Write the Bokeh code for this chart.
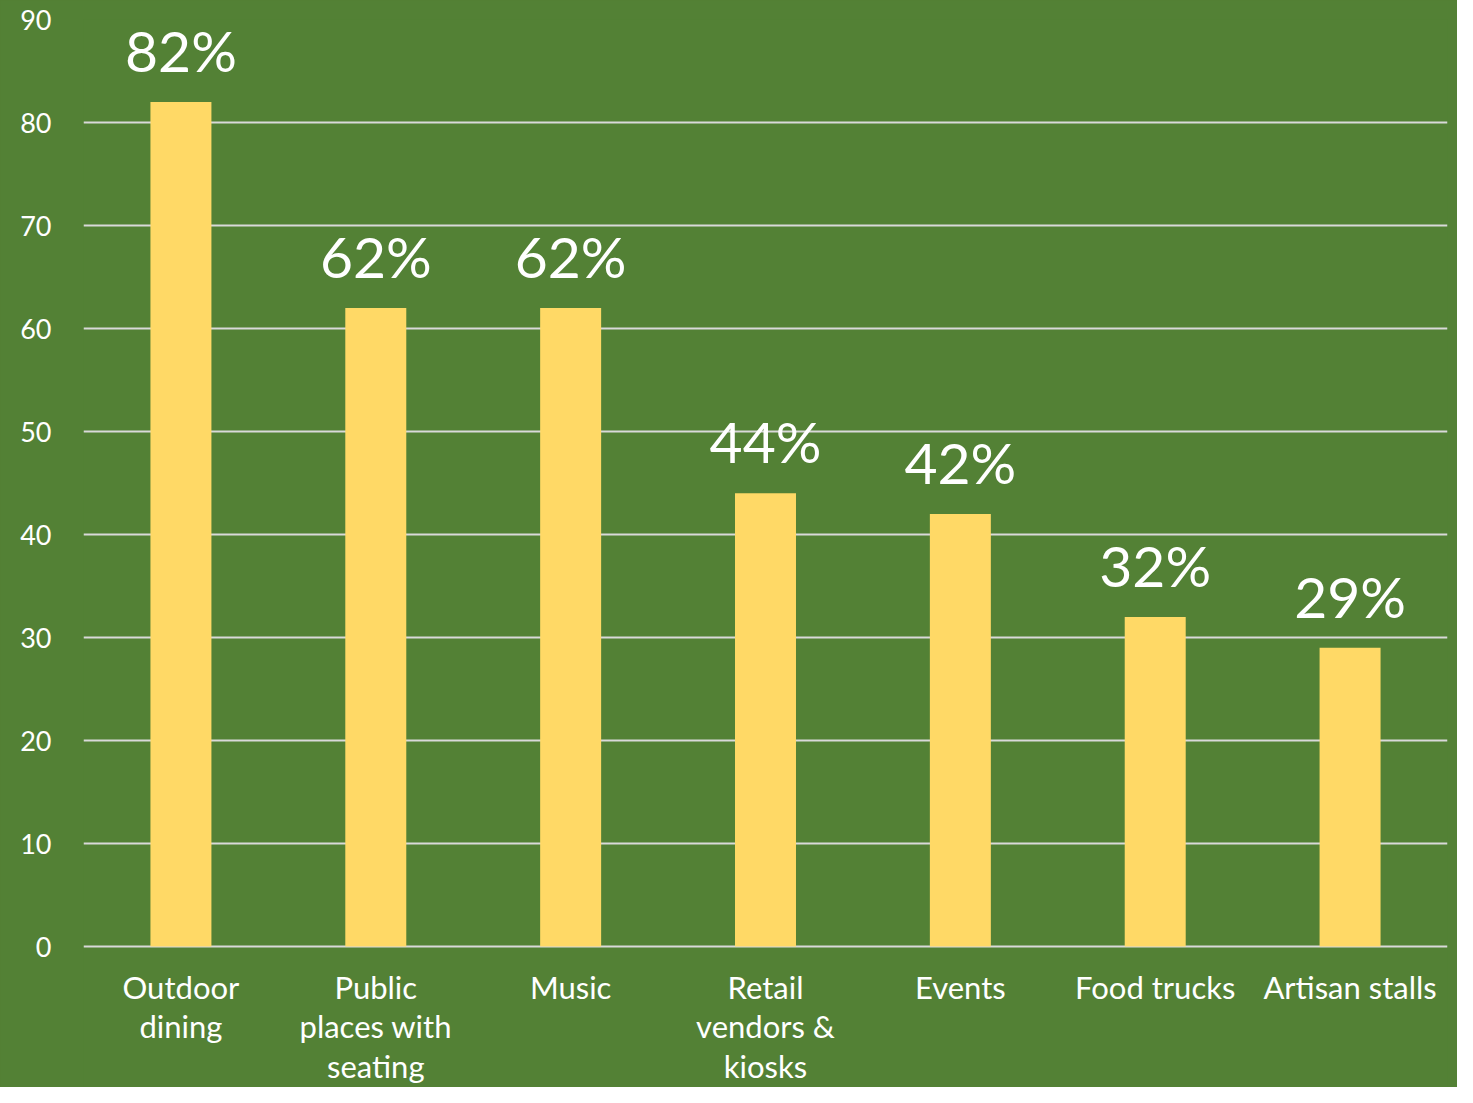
from bokeh.plotting import figure
from bokeh.models import ColumnDataSource, Range1d, FactorRange, FixedTicker
from bokeh.core.properties import value
from bokeh.embed import file_html
from bokeh.resources import INLINE

categories = ["Outdoor dining", "Public places with seating", "Music",
              "Retail vendors & kiosks", "Events", "Food trucks", "Artisan stalls"]
tick_labels = ["Outdoor\ndining", "Public\nplaces with\nseating", "Music",
               "Retail\nvendors &\nkiosks", "Events", "Food trucks", "Artisan stalls"]
values = [82, 62, 62, 44, 42, 32, 29]
value_labels = ["82%", "62%", "62%", "44%", "42%", "32%", "29%"]
y_ticks = [0, 10, 20, 30, 40, 50, 60, 70, 80, 90]

BG = "#538135"
BAR = "#FFD966"
FONT = "Lato"

W, H = 1457, 1087
TOP, ZERO_PX = 19, 946          # pixel rows of the 90 and 0 gridlines
y_max = 90
y_min = -y_max * (H - ZERO_PX) / (ZERO_PX - TOP)   # frame extends to bottom so category labels fit

src = ColumnDataSource(dict(cat=categories, val=values, lab=value_labels,
                            tick=tick_labels, zero=[0] * len(categories)))

p = figure(width=W, height=H, output_backend="svg", toolbar_location=None,
           x_range=FactorRange(*categories, range_padding=0), y_range=Range1d(y_min, y_max),
           min_border_left=83, min_border_right=10, min_border_top=TOP, min_border_bottom=0)
p.background_fill_color = BG
p.border_fill_color = BG
p.outline_line_color = None
p.styles = {"background-color": BG}

p.vbar(x="cat", top="val", width=0.313, source=src, fill_color=BAR, line_color=None)
p.text(x="cat", y="val", text="lab", source=src, text_align="center",
       text_baseline="bottom", y_offset=-18, text_color="white",
       text_font=value(FONT), text_font_size="57px")
p.text(x="cat", y="zero", text="tick", source=src, text_align="center",
       text_baseline="top", y_offset=21, text_color="white",
       text_font=value(FONT), text_font_size="31px", text_line_height=1.05)

p.xaxis.visible = False
p.xgrid.grid_line_color = None
p.ygrid.grid_line_color = "#D9D9D9"
p.ygrid.grid_line_width = 2
p.yaxis.ticker = FixedTicker(ticks=y_ticks)

ax = p.yaxis[0]
ax.axis_line_color = None
ax.major_tick_line_color = None
ax.minor_tick_line_color = None
ax.major_label_text_color = "white"
ax.major_label_text_font = FONT
ax.major_label_text_font_size = "27px"
ax.major_label_standoff = 26

open("out.html", "w").write(file_html(p, INLINE))
